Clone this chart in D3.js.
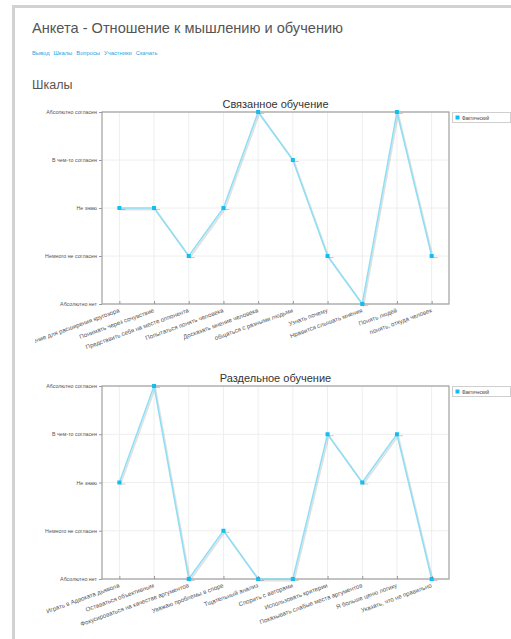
<!DOCTYPE html>
<html>
<head>
<meta charset="utf-8">
<script src="https://cdn.jsdelivr.net/npm/d3@7"></script>
<style>
  html, body { margin:0; padding:0; background:#fff; width:511px; height:639px; overflow:hidden; font-family:"Liberation Sans", Arial, sans-serif; }
  .card { position:absolute; left:12px; top:5px; width:520px; height:660px; border:3px solid #d2d2d2; background:#fff; box-sizing:border-box; }
  h1 { position:absolute; left:32px; top:20px; margin:0; font-size:14.6px; font-weight:normal; color:#555; white-space:nowrap; }
  .links { position:absolute; left:32px; top:50px; font-size:5.8px; color:#2aa6de; white-space:nowrap; }
  .links span { margin-right:4px; }
  h2 { position:absolute; left:32px; top:78px; margin:0; font-size:12.5px; font-weight:normal; color:#555; }
  svg { position:absolute; left:35px; }
</style>
</head>
<body>
<div class="card"></div>
<h1>Анкета - Отношение к мышлению и обучению</h1>
<div class="links"><span>Вывод</span><span>Шкалы</span><span>Вопросы</span><span>Участники</span><span>Скачать</span></div>
<h2>Шкалы</h2>
<script>
const yLevels = ["Абсолютно нет", "Немного не согласен", "Не знаю", "В чем-то согласен", "Абсолютно согласен"];

const titleA = "Связанное обучение";
const catsA = ["Обсуждение для расширения кругозора", "Понимать через сочувствие", "Представить себя на месте оппонента",
  "Попытаться понять человека", "Досказать мнение человека", "общаться с разными людьми", "Узнать почему",
  "Нравится слышать мнения", "Понять людей", "понять, откуда человек"];
const valsA = [2, 2, 1, 2, 4, 3, 1, 0, 4, 1];

const titleB = "Раздельное обучение";
const catsB = ["Играть в Адвоката дьявола", "Оставаться объективным", "Фокусироваться на качестве аргументов",
  "Уважаю проблемы в споре", "Тщательный анализ", "Спорить с авторами", "Использовать критерии",
  "Показывать слабые места аргументов", "Я больше ценю логику", "Указать, что не правильно"];
const valsB = [2, 4, 0, 1, 0, 0, 3, 2, 3, 0];

const seriesName = "Фактический";

function drawChart(svgTop, svgH, plotTop, plotBottom, title, cats, vals) {
  const svgLeft = 35;
  const L = 102, R = 449;
  const svg = d3.select("body").append("svg")
    .attr("width", 511 - svgLeft).attr("height", svgH)
    .style("top", svgTop + "px");
  const g = svg.append("g").attr("transform", `translate(${-svgLeft},${-svgTop})`);

  const x = d3.scalePoint().domain(cats).range([L, R]).padding(0.5);
  const y = d3.scalePoint().domain(yLevels).range([plotBottom, plotTop]);

  // grid
  g.append("g").selectAll("line.h").data(yLevels).join("line")
    .attr("x1", L).attr("x2", R).attr("y1", d => y(d)).attr("y2", d => y(d))
    .attr("stroke", "#eeeeee").attr("stroke-width", 1);
  g.append("g").selectAll("line.v").data(cats).join("line")
    .attr("y1", plotTop).attr("y2", plotBottom).attr("x1", d => x(d)).attr("x2", d => x(d))
    .attr("stroke", "#eeeeee").attr("stroke-width", 1);

  // frame
  g.append("rect").attr("x", L).attr("y", plotTop).attr("width", R - L).attr("height", plotBottom - plotTop)
    .attr("fill", "none").attr("stroke", "#a0a0a0").attr("stroke-width", 1.2);

  // y axis
  const ya = g.append("g").attr("transform", `translate(${L},0)`)
    .call(d3.axisLeft(y).tickSize(3).tickPadding(2));
  ya.select(".domain").remove();
  ya.selectAll("line").attr("stroke", "#999");
  ya.selectAll("text").attr("font-size", "5.3px").attr("fill", "#555")
    .attr("font-family", "Liberation Sans, Arial, sans-serif");

  // x axis
  const xa = g.append("g").attr("transform", `translate(0,${plotBottom})`)
    .call(d3.axisBottom(x).tickSize(-3).tickPadding(0));
  xa.select(".domain").remove();
  xa.selectAll("line").attr("stroke", "#999");
  xa.selectAll("text").attr("font-size", "6.1px").attr("fill", "#555")
    .attr("font-family", "Liberation Sans, Arial, sans-serif")
    .attr("text-anchor", "end").attr("dy", "0")
    .attr("transform", "translate(0,8) rotate(-20)");

  // title
  g.append("text").attr("x", (L + R) / 2).attr("y", plotTop - 4)
    .attr("text-anchor", "middle").attr("font-size", "11px").attr("fill", "#333")
    .attr("font-family", "Liberation Sans, Arial, sans-serif").text(title);

  // line
  const pts = cats.map((c, i) => [x(c), y(yLevels[vals[i]])]);
  const line = d3.line();
  g.append("path").attr("d", line(pts)).attr("fill", "none")
    .attr("stroke", "rgba(0,0,0,0.12)").attr("stroke-width", 1.8)
    .attr("transform", "translate(1.2,1.5)");
  g.append("path").attr("d", line(pts)).attr("fill", "none")
    .attr("stroke", "#8ddff6").attr("stroke-width", 1.5).attr("stroke-linejoin", "round");

  // markers
  g.append("g").selectAll("line").data(pts).join("line")
    .attr("x1", d => d[0] + 1).attr("x2", d => d[0] + 6).attr("y1", d => d[1] + 1.5).attr("y2", d => d[1] + 1.5)
    .attr("stroke", "rgba(0,0,0,0.2)").attr("stroke-width", 1);
  g.append("g").selectAll("rect").data(pts).join("rect")
    .attr("x", d => d[0] - 2).attr("y", d => d[1] - 2).attr("width", 4).attr("height", 4)
    .attr("fill", "#12bdf0");

  // legend
  const lg = g.append("g");
  lg.append("rect").attr("x", 452.5).attr("y", plotTop + 0.5).attr("width", 58).attr("height", 10)
    .attr("fill", "#fff").attr("stroke", "#cfcfcf").attr("stroke-width", 1);
  lg.append("rect").attr("x", 455.5).attr("y", plotTop + 3.5).attr("width", 4).attr("height", 4).attr("fill", "#12bdf0");
  lg.append("text").attr("x", 462).attr("y", plotTop + 7.5).attr("font-size", "4.6px").attr("fill", "#444")
    .attr("font-family", "Liberation Sans, Arial, sans-serif").text(seriesName);
}

drawChart(95, 260, 112, 304, titleA, catsA, valsA);
drawChart(365, 274, 386, 579, titleB, catsB, valsB);
</script>
</body>
</html>
